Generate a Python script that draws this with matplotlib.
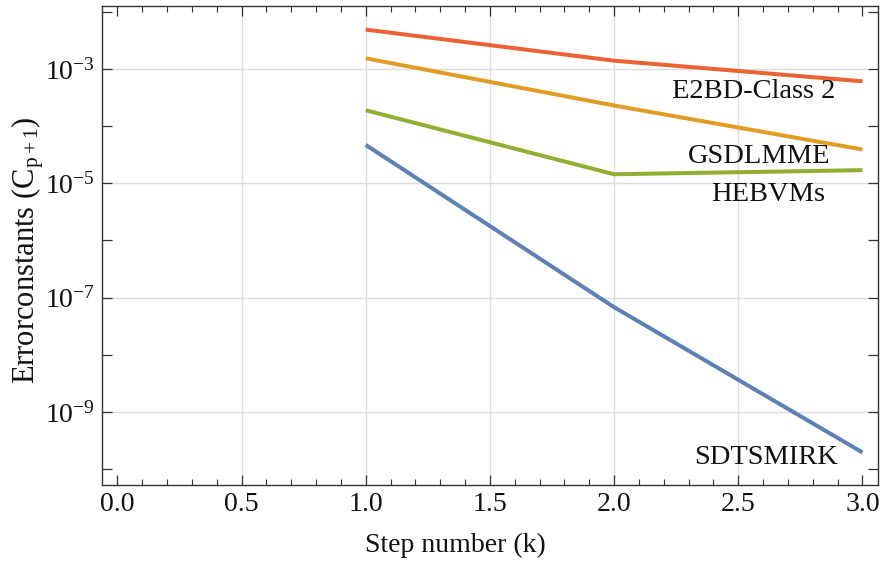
import numpy as np
import matplotlib
matplotlib.use("Agg")
import matplotlib.pyplot as plt
from matplotlib.ticker import FixedLocator, FuncFormatter

plt.rcParams['font.family'] = ['Liberation Serif', 'DejaVu Serif']
plt.rcParams['mathtext.fontset'] = 'custom'
plt.rcParams['mathtext.rm'] = 'Liberation Serif'
plt.rcParams['mathtext.it'] = 'Liberation Serif:italic'

# Data
steps = [1, 2, 3]
methods = ['E2BD-Class 2', 'GSDLMME', 'HEBVMs', 'SDTSMIRK']
e2bd = [4.9e-3, 1.4e-3, 6.1e-4]
gsdlmme = [1.54e-3, 2.3e-4, 3.9e-5]
hebvms = [1.9e-4, 1.44e-5, 1.7e-5]
sdtsmirk = [4.7e-5, 6.8e-8, 1.95e-10]
series = [e2bd, gsdlmme, hebvms, sdtsmirk]
colors = ['#EB6235', '#E19C24', '#8FB032', '#5E81B5']

# label anchors (x, y) for the text next to each curve
label_pos = [(2.89, 4.0e-4), (2.87, 2.9e-5), (2.85, 6.4e-6), (2.90, 1.6e-10)]

fig = plt.figure(figsize=(8.96, 5.62), dpi=100)
ax = fig.add_axes([0.1135, 0.137, 0.8665, 0.852])

for vals, c in zip(series, colors):
    ax.plot(steps, vals, color=c, lw=2.9, solid_capstyle='butt')

for name, (tx, ty) in zip(methods, label_pos):
    ax.text(tx, ty, name, ha='right', va='center', fontsize=20.5, color='#111111')

ax.set_yscale('log')
ax.set_xlim(-0.063, 3.063)
ax.set_ylim(10**-10.28, 10**-1.9)

ax.xaxis.set_major_locator(FixedLocator(np.arange(0, 3.01, 0.5)))
ax.xaxis.set_minor_locator(FixedLocator(np.arange(0, 3.01, 0.1)))
ax.xaxis.set_major_formatter(FuncFormatter(lambda v, p: f'{v:.1f}'))

ax.yaxis.set_major_locator(FixedLocator([10.0**e for e in range(-10, -1)]))
ax.yaxis.set_minor_locator(FixedLocator([]))
ax.yaxis.set_major_formatter(FuncFormatter(
    lambda v, p: (r'$10^{%d}$' % round(np.log10(v))) if round(np.log10(v)) % 2 else ''))

ax.tick_params(which='both', direction='in', top=True, right=True, colors='#333333',
               labelcolor='#111111', labelsize=20)
ax.tick_params(which='major', length=7, width=0.9, pad=5)
ax.tick_params(which='minor', length=4, width=0.8)

for e in [-3, -5, -7, -9]:
    ax.axhline(10.0**e, color='#dddddd', lw=1, zorder=0)
for xv in [0.5, 1.0, 1.5, 2.0, 2.5]:
    ax.axvline(xv, color='#dddddd', lw=1, zorder=0)

for s in ax.spines.values():
    s.set_color('#333333')
    s.set_linewidth(1.0)

ax.set_xlabel('Step number (k)', fontsize=20, color='#111111')
ax.set_ylabel(r'Errorconstants (C$_{\mathrm{p+1}}$)', fontsize=22, color='#111111')
ax.xaxis.set_label_coords(0.455, -0.1)
ax.yaxis.set_label_coords(-0.072, 0.49)

fig.savefig('out.png', dpi=100)
